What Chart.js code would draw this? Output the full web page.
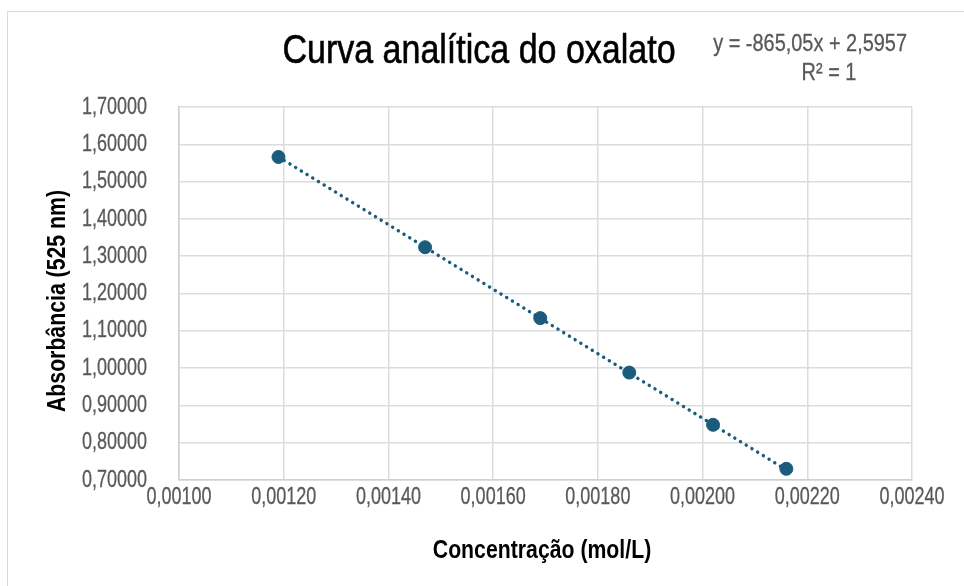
<!DOCTYPE html>
<html lang="pt">
<head>
<meta charset="utf-8">
<title>Curva analítica do oxalato</title>
<script src="https://cdn.jsdelivr.net/npm/chart.js@4/dist/chart.umd.min.js"></script>
<style>
  html, body { margin: 0; padding: 0; background: #fff; }
  #wrap { position: relative; width: 964px; height: 586px; }
</style>
</head>
<body>
<div id="wrap"><canvas id="grafico" width="964" height="586"></canvas></div>
<script>
// dados
const concentracoes = [0.00119, 0.00147, 0.00169, 0.00186, 0.00202, 0.00216];
const absorbancias = [1.5660, 1.3240, 1.1340, 0.9880, 0.8480, 0.7300];
// extremos da linha de tendência
const tendenciaX = [0.00119, 0.00216];
const tendenciaY = [1.5663, 0.7272];

const titulo = "Curva analítica do oxalato";
const equacao = "y = -865,05x + 2,5957";
const r2 = "R² = 1";
const tituloX = "Concentração (mol/L)";
const tituloY = "Absorbância (525 nm)";

const FONTE = "'Liberation Sans', Arial, sans-serif";
const COR_PONTO = "#1b5b7c";

const virgula = (v) => v.toFixed(5).replace(".", ",");

// escreve texto comprimido na horizontal (imita a fonte "narrow" do original)
function texto(ctx, s, x, y, align, sx, traco) {
  ctx.save();
  ctx.translate(x, y);
  ctx.scale(sx, 1);
  ctx.textAlign = align;
  ctx.fillText(s, 0, 0);
  if (traco) {
    ctx.strokeStyle = ctx.fillStyle;
    ctx.lineWidth = traco;
    ctx.strokeText(s, 0, 0);
  }
  ctx.restore();
}

// textos, rótulos dos eixos e moldura
const textosPlugin = {
  id: "textos",
  beforeDraw(chart) {
    const ctx = chart.ctx;
    ctx.save();
    ctx.strokeStyle = "#d9d9d9";
    ctx.lineWidth = 1;
    ctx.strokeRect(7.5, 11.5, 990, 600);
    ctx.restore();
  },
  afterDraw(chart) {
    const ctx = chart.ctx;
    const sx = chart.scales.x;
    const sy = chart.scales.y;
    ctx.save();
    ctx.textBaseline = "middle";

    ctx.fillStyle = "#000";
    ctx.font = `40px ${FONTE}`;
    texto(ctx, titulo, 479, 52, "center", 0.85, 0.6);

    ctx.fillStyle = "#595959";
    ctx.font = `24px ${FONTE}`;
    texto(ctx, equacao, 907, 44, "right", 0.83, 0.3);
    texto(ctx, r2, 829, 73, "center", 0.83, 0.3);

    // rótulos dos ticks
    ctx.font = `24px ${FONTE}`;
    sy.ticks.forEach((t) => {
      texto(ctx, virgula(t.value), 147, sy.getPixelForValue(t.value), "right", 0.75, 0.3);
    });
    sx.ticks.forEach((t) => {
      texto(ctx, virgula(t.value), sx.getPixelForValue(t.value), 497, "center", 0.75, 0.3);
    });

    ctx.fillStyle = "#000";
    ctx.font = `bold 25px ${FONTE}`;
    texto(ctx, tituloX, 542, 551, "center", 0.85);

    ctx.translate(58, 301);
    ctx.rotate(-Math.PI / 2);
    texto(ctx, tituloY, 0, 0, "center", 0.85);
    ctx.restore();
  }
};

new Chart(document.getElementById("grafico"), {
  type: "scatter",
  data: {
    datasets: [
      {
        label: "Absorbância",
        data: concentracoes.map((x, i) => ({ x: x, y: absorbancias[i] })),
        backgroundColor: COR_PONTO,
        borderColor: COR_PONTO,
        pointRadius: 6.5,
        pointHoverRadius: 6.5,
        order: 1
      },
      {
        label: "Linear",
        type: "line",
        data: tendenciaX.map((x, i) => ({ x: x, y: tendenciaY[i] })),
        borderColor: COR_PONTO,
        borderWidth: 3.4,
        borderDash: [0.1, 6.6],
        borderCapStyle: "round",
        pointRadius: 0,
        fill: false,
        order: 2
      }
    ]
  },
  options: {
    responsive: false,
    animation: false,
    events: [],
    layout: { padding: { left: 0, top: 107, right: 52, bottom: 0 } },
    plugins: { legend: { display: false }, tooltip: { enabled: false }, title: { display: false } },
    scales: {
      x: {
        type: "linear",
        min: 0.001,
        max: 0.0024,
        border: { color: "#d0d0d0", width: 1.5 },
        grid: { color: "#dcdcdc", lineWidth: 1.5, drawTicks: false },
        ticks: { stepSize: 0.0002, display: false },
        afterFit: (s) => { s.height = 106; }
      },
      y: {
        type: "linear",
        min: 0.7,
        max: 1.7,
        border: { color: "#d0d0d0", width: 1.5 },
        grid: { color: "#dcdcdc", lineWidth: 1.5, drawTicks: false },
        ticks: { stepSize: 0.1, display: false },
        afterFit: (s) => { s.width = 179; }
      }
    }
  },
  plugins: [textosPlugin]
});
</script>
</body>
</html>
